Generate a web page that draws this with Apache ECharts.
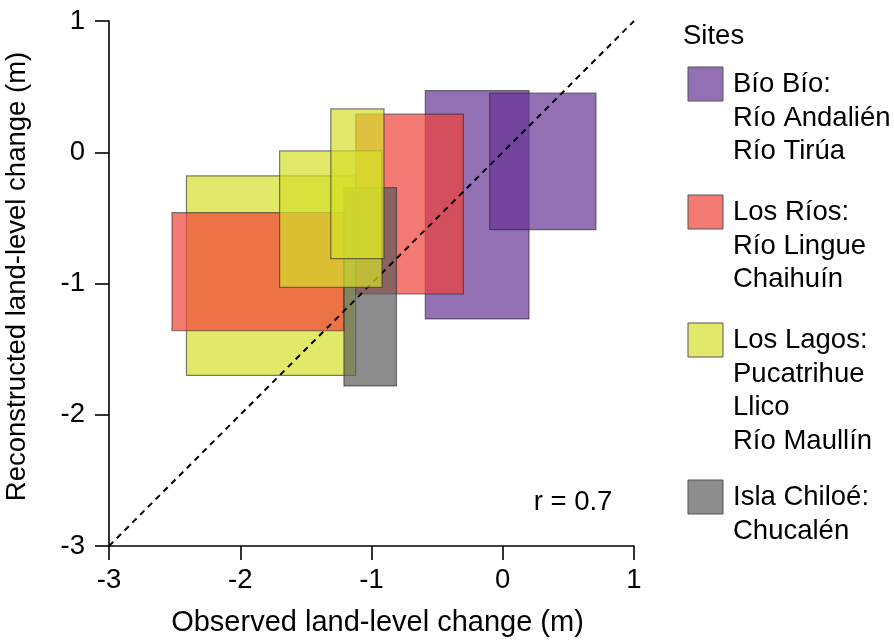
<!DOCTYPE html>
<html>
<head>
<meta charset="utf-8">
<script src="https://cdn.jsdelivr.net/npm/echarts@6/dist/echarts.min.js"></script>
<style>
  html, body { margin: 0; padding: 0; background: #fff; }
  #chart { width: 894px; height: 644px; }
</style>
</head>
<body>
<div id="chart"></div>
<script>
// sites (legend groups)
var siteNames = ['Bío Bío:\nRío Andalién\nRío Tirúa', 'Los Ríos:\nRío Lingue\nChaihuín', 'Los Lagos:\nPucatrihue\nLlico\nRío Maullín', 'Isla Chiloé:\nChucalén'];

// one rectangle per site record, in drawing order
var rectSite = [0, 0, 2, 1, 1, 3, 2, 2];
var obsMin = [-0.59, -0.10, -2.41, -2.52, -1.12, -1.21, -1.70, -1.31];
var obsMax = [0.20, 0.71, -1.12, -1.21, -0.30, -0.81, -0.92, -0.905];
var recMin = [-1.27, -0.59, -1.70, -1.36, -1.08, -1.78, -1.03, -0.81];
var recMax = [0.47, 0.45, -0.18, -0.46, 0.29, -0.27, 0.01, 0.33];

// 1:1 line
var oneToOne = [[-3, -3], [1, 1]];
var rValue = 0.7;
var axisTicks = [-3, -2, -1, 0, 1];

// colours for the sites (semi transparent)
var siteColors = ['rgba(101,51,148,0.7)', 'rgba(239,65,56,0.7)', 'rgba(214,222,42,0.7)', 'rgba(91,91,91,0.7)'];
var swatchColors = ['#9370b4', '#f47a74', '#e2e86a', '#8c8c8c'];
var FONT = 'Liberation Sans, Arial, sans-serif';
var FS = 27.5;

// rects drawn before the dashed line / after it
var firstOverLine = 6;

var rectData = rectSite.map(function (s, i) {
  return [obsMin[i], obsMax[i], recMin[i], recMax[i], s, i];
});

function makeRender(after) {
  return function (params, api) {
    var idx = api.value(5);
    if ((idx >= firstOverLine) !== after) return null;
    var p0 = api.coord([api.value(0), api.value(3)]);
    var p1 = api.coord([api.value(1), api.value(2)]);
    return {
      type: 'rect',
      shape: { x: p0[0], y: p0[1], width: p1[0] - p0[0], height: p1[1] - p0[1] },
      style: { fill: siteColors[api.value(4)], stroke: 'rgba(40,40,40,0.6)', lineWidth: 1.2 }
    };
  };
}

var legendItems = [];
var boxTops = [67, 195, 323, 480];
legendItems.push({
  type: 'text', left: 683, top: 22,
  style: { text: 'Sites', font: FS + 'px ' + FONT, fill: '#000' }
});
siteNames.forEach(function (name, i) {
  legendItems.push({
    type: 'rect', shape: { x: 688, y: boxTops[i], width: 35, height: 34 },
    style: { fill: swatchColors[i], stroke: '#555', lineWidth: 1 }
  });
  legendItems.push({
    type: 'text', x: 733, y: boxTops[i] + 1,
    style: { text: name, font: FS + 'px ' + FONT, fill: '#000', lineHeight: 33.5, verticalAlign: 'top' }
  });
});
legendItems.push({
  type: 'text', x: 573, y: 502,
  style: { text: 'r = ' + rValue, font: FS + 'px ' + FONT, fill: '#000', align: 'center', verticalAlign: 'middle' }
});

var axisCommon = {
  type: 'value', min: axisTicks[0], max: axisTicks[axisTicks.length - 1], interval: 1,
  nameLocation: 'middle',
  axisLine: { show: true, onZero: false, lineStyle: { color: '#000', width: 1.6 } },
  axisTick: { show: true, length: 14, lineStyle: { color: '#000', width: 1.6 } },
  axisLabel: { fontSize: FS, color: '#000', fontFamily: FONT },
  splitLine: { show: false }
};

var option = {
  animation: false,
  backgroundColor: '#fff',
  grid: { left: 109, right: 260, top: 21, bottom: 98, outerBoundsMode: 'none', containLabel: false },
  xAxis: Object.assign({}, axisCommon, {
    name: 'Observed land-level change (m)', nameGap: 62,
    nameTextStyle: { fontSize: 29, color: '#000', fontFamily: FONT, padding: [0, 0, 0, 12] },
    axisLabel: Object.assign({}, axisCommon.axisLabel, { margin: 20 })
  }),
  yAxis: Object.assign({}, axisCommon, {
    name: 'Reconstructed land-level change (m)', nameGap: 78,
    nameTextStyle: { fontSize: FS, color: '#000', fontFamily: FONT, padding: [0, 0, 0, 14] },
    axisLabel: Object.assign({}, axisCommon.axisLabel, { margin: 24 })
  }),
  series: [
    { type: 'custom', renderItem: makeRender(false), data: rectData, encode: { x: [0, 1], y: [2, 3] }, z: 1 },
    { type: 'line', data: oneToOne, symbol: 'none', z: 2,
      lineStyle: { color: '#000', width: 2, type: [6, 5] } },
    { type: 'custom', renderItem: makeRender(true), data: rectData, encode: { x: [0, 1], y: [2, 3] }, z: 3 }
  ],
  graphic: legendItems
};

var chart = echarts.init(document.getElementById('chart'));
chart.setOption(option);
</script>
</body>
</html>
